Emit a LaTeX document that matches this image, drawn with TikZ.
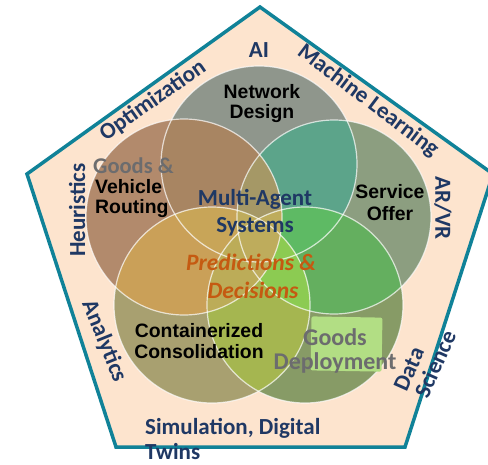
\documentclass[tikz,border=0pt]{standalone}
\usepackage{fontspec}
\setmainfont{Liberation Sans}
\newfontfamily\calfont{Carlito}
\definecolor{pentfill}{RGB}{253,228,206}
\definecolor{pentborder}{RGB}{16,130,152}
\definecolor{outerblue}{RGB}{31,56,100}
\definecolor{grayt}{RGB}{108,108,110}
\definecolor{orangeT}{RGB}{197,90,17}
\definecolor{cND}{RGB}{143,150,140}
\definecolor{cGVR}{RGB}{178,138,108}
\definecolor{cSO}{RGB}{140,158,128}
\definecolor{cCC}{RGB}{168,160,112}
\definecolor{cGD}{RGB}{135,155,102}
\definecolor{pNG}{RGB}{168,133,98}
\definecolor{pNS}{RGB}{92,164,138}
\definecolor{pGC}{RGB}{202,160,88}
\definecolor{pSD}{RGB}{100,175,95}
\definecolor{pCD}{RGB}{165,182,80}
\definecolor{pGS}{RGB}{165,152,102}
\definecolor{pND}{RGB}{94,186,100}
\definecolor{pNC}{RGB}{200,165,88}
\definecolor{pSC}{RGB}{140,203,82}
\definecolor{pGD}{RGB}{188,172,88}
\definecolor{pMid}{RGB}{190,172,92}
\definecolor{gdbox}{RGB}{178,222,132}
\newcommand\pairfill[3]{\begin{scope}\clip #1; \fill[#3] #2;\end{scope}}
\newcommand\triplefill[4]{\begin{scope}\clip #1; \clip #2; \fill[#4] #3;\end{scope}}
\begin{document}
\begin{tikzpicture}[x=1pt,y=-1pt,
  outer/.style={font=\calfont\bfseries\fontsize{23}{25}\selectfont, text=outerblue, inner sep=0pt},
  inner/.style={font=\bfseries\fontsize{19.4}{22}\selectfont, text=black, inner sep=0pt},
  graylbl/.style={font=\calfont\bfseries\fontsize{24}{24}\selectfont, text=grayt, inner sep=0pt},
  ring/.style={draw=white, line width=1.2pt, draw opacity=0.7}]
\useasboundingbox (0,0) rectangle (488,464);
\def\ND{(259,164) circle (98)}
\def\GVR{(184,217) circle (98)}
\def\SO{(334,217) circle (97)}
\def\CC{(212,305) circle (98)}
\def\GD{(305,305) circle (98)}
% pentagon
\draw[fill=pentfill, draw=pentborder, line width=3.5pt, line join=miter]
  (260,7) coordinate (pTop) -- (493,174) coordinate (pR) -- (405,447) coordinate (pBR)
  -- (116,447) coordinate (pBL) -- (27,174) coordinate (pL) -- cycle;
% solo fills
\fill[cND] \ND;
\fill[cGVR] \GVR;
\fill[cSO] \SO;
\fill[cCC] \CC;
\fill[cGD] \GD;
% adjacent pairs
\pairfill{\ND}{\GVR}{pNG}
\pairfill{\ND}{\SO}{pNS}
\pairfill{\GVR}{\CC}{pGC}
\pairfill{\SO}{\GD}{pSD}
\pairfill{\CC}{\GD}{pCD}
% non-adjacent pairs
\pairfill{\GVR}{\SO}{pGS}
\pairfill{\ND}{\GD}{pND}
\pairfill{\ND}{\CC}{pNC}
\pairfill{\SO}{\CC}{pSC}
\pairfill{\GVR}{\GD}{pGD}
% centre
\triplefill{\GVR}{\SO}{\CC}{pMid}
\triplefill{\GVR}{\SO}{\GD}{pMid}
% outlines
\draw[ring] \ND;
\draw[ring] \GVR;
\draw[ring] \SO;
\draw[ring] \CC;
\draw[ring] \GD;
% goods deployment box
\fill[gdbox, rounded corners=2pt, rotate around={-1:(346,344)}] (311,317) rectangle (382,371);
% inner labels
\node[inner, anchor=base] (nd1) at (262,98) {Network};
\node[inner, anchor=base] (nd2) at (262,118) {Design};
\node[graylbl, font=\calfont\bfseries\fontsize{22.5}{24}\selectfont, anchor=base west] (gv0) at (93,173) {Goods \&};
\node[inner, anchor=base west] (gv1) at (95,193) {Vehicle};
\node[inner, anchor=base west] (gv2) at (95,213) {Routing};
\node[inner, anchor=base] (so1) at (390,198) {Service};
\node[inner, anchor=base] (so2) at (390,220) {Offer};
\node[inner, anchor=base] (cc1) at (199,337) {Containerized};
\node[inner, anchor=base] (cc2) at (199,358) {Consolidation};
\node[graylbl, anchor=base] (gd1) at (335,345) {Goods};
\node[graylbl, anchor=base] (gd2) at (335,369) {Deployment};
\node[outer, anchor=base] (ma1) at (255,205) {Multi-Agent};
\node[outer, anchor=base] (ma2) at (255,232) {Systems};
\node[inner sep=0pt, text=orangeT, font=\calfont\bfseries\itshape\fontsize{23.5}{28}\selectfont, anchor=base] (pd1) at (251,270) {Predictions \&};
\node[inner sep=0pt, text=orangeT, font=\calfont\bfseries\itshape\fontsize{23.5}{28}\selectfont, anchor=base] (pd2) at (253,298) {Decisions};
% outer labels
\node[outer, anchor=base] (ai) at (259,57) {AI};
\node[outer, rotate=35] (opt) at (153,101) {Optimization};
\node[outer, rotate=-37] (ml) at (368,101) {Machine Learning};
\node[outer, rotate=90] (heu) at (77,210) {Heuristics};
\node[outer, rotate=-68] (ana) at (104,341) {Analytics};
\node[outer, rotate=-90] (arvr) at (443,208) {AR/VR};
\node[outer, rotate=66] (data) at (409,369) {Data};
\node[outer, rotate=66] (sci) at (435,364) {Science};
\node[outer, anchor=base west] (sim1) at (145,434) {Simulation, Digital};
\node[outer, anchor=base west] (sim2) at (145,459) {Twins};
\end{tikzpicture}
\end{document}
